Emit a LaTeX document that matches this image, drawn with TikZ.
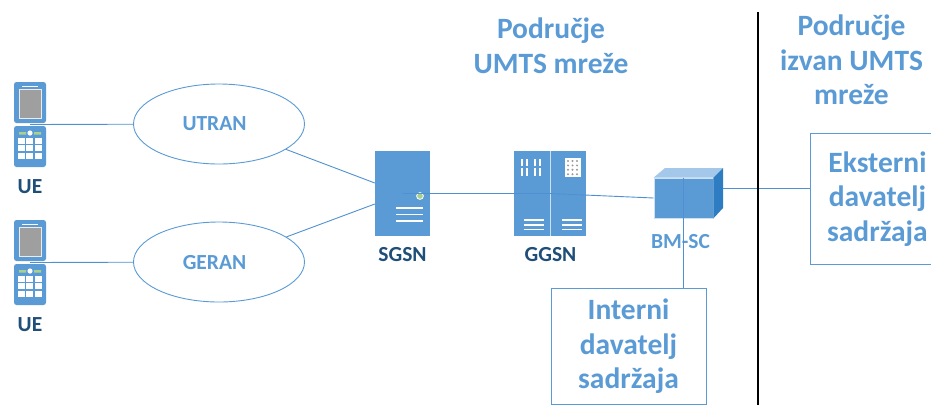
\documentclass[tikz,border=0pt]{standalone}
\usepackage{fontspec}
\setmainfont{Carlito}
\usetikzlibrary{shapes.geometric}
\definecolor{mso}{HTML}{5B9BD5}
\definecolor{msol}{HTML}{4F91D0}
\definecolor{msod}{HTML}{1F4E79}
\definecolor{msos}{HTML}{2E7CC2}
\definecolor{msot}{HTML}{A3C8EA}
\definecolor{keyg}{HTML}{A9D18E}
\tikzset{
  x=1pt,y=-1pt,
  link/.style={draw=msol,line width=0.9pt},
  cloudy/.style={ellipse,draw=mso,line width=0.9pt,fill=white,minimum width=171pt,minimum height=80pt,inner sep=0pt},
  cloudlabel/.style={text=mso,inner sep=0pt,font=\fontsize{21.5}{24}\selectfont\bfseries},
  head/.style={text=mso,align=center,inner sep=0pt,font=\fontsize{29.5}{34.5}\selectfont\bfseries},
  provider/.style={draw=mso,line width=0.9pt,fill=white,text=mso,align=center,inner sep=0pt,font=\fontsize{29.5}{34.5}\selectfont\bfseries},
  devlabel/.style={text=msod,inner sep=0pt,font=\fontsize{21.5}{24}\selectfont\bfseries},
  bslabel/.style={text=mso,inner sep=0pt,font=\fontsize{21.5}{24}\selectfont\bfseries},
  slab/.style={fill=mso,draw=none,inner sep=0pt,minimum width=55pt,minimum height=85pt},
  wline/.style={draw=white,line width=1.2pt},
  phone/.pic={
    \fill[mso,rounded corners=2.5pt] (-16,-42.5) rectangle (16,-1.5);
    \fill[mso,rounded corners=2.5pt] (-16,1.5) rectangle (16,42.5);
    \draw[white,line width=1pt] (-8,-38.5) -- (8,-38.5);
    \fill[gray!75,draw=white!85!gray,line width=0.8pt] (-11,-35.5) rectangle (11,-6.5);
    \fill[keyg] (-11,7.5) rectangle (-4,10) (4,7.5) rectangle (11,10);
    \fill[white] (0,8.5) circle (2.6pt);
    \foreach \r in {0,1,2}\foreach \c in {0,1,2}
      \fill[white] ({-12+8.3*\c},{13.5+7.3*\r}) rectangle +(7,6);
  }
}
\begin{document}
\begin{tikzpicture}
\useasboundingbox (0,0) rectangle (931,405);
% devices
\pic at (30,124.5) {phone};
\pic at (30,262.5) {phone};
\coordinate (p1) at (30,124.5);
\coordinate (p2) at (30,262.5);
\node[devlabel] (uel1) at (30,187) {UE};
\node[devlabel] (uel2) at (30,325) {UE};
\node[cloudy] (utran) at (219,124) {};
\node[cloudy] (geran) at (219,262) {};
\node[cloudlabel] (utranl) at (214.5,124) {UTRAN};
\node[cloudlabel] (geranl) at (214.5,262.5) {GERAN};
\node[slab] (sgsn) at (402.5,193.5) {};
\node[slab,minimum width=72pt] (ggsn) at (550,193.5) {};
\node[devlabel] (sgsnl) at (402.5,255) {SGSN};
\node[devlabel] (ggsnl) at (550.5,255) {GGSN};
% SGSN details
\fill[keyg,draw=white,line width=0.8pt] (420,196) circle (3.4pt);
\foreach \y in {208,214.5,221}\draw[wline] (396,\y) -- (423,\y);
% GGSN details
\draw[white!70!mso,line width=1pt] (ggsn.north) -- (ggsn.south);
\foreach \y in {220,225,229.5}{\draw[wline] (524,\y) -- (544,\y);\draw[wline] (562,\y) -- (582,\y);}
\foreach \x in {522,527,535,540}\foreach \y in {158.5,168}{\fill[white] (\x-1.2+0.2,\y) rectangle +(2.4,7.5);}
\fill[white] (565,158) rectangle (581,177);
\foreach \r in {0,1,2,3}\foreach \c in {0,1,2}\fill[gray!80] ({568+4.5*\c},{161+4.4*\r}) circle (1.1pt);
% BM-SC cube
\node[fill=mso,draw=white!70!mso,line width=0.8pt,inner sep=0pt,minimum width=59pt,minimum height=40pt] (bmsc) at (683.5,198) {};
\fill[msot] (bmsc.north west) -- (665,168) -- (723,168) -- (bmsc.north east) -- cycle;
\fill[msos] (bmsc.north east) -- (723,168) -- (723,208) -- (bmsc.south east) -- cycle;
\node[bslabel] (bmscl) at (680.5,242) {BM-SC};
% providers
\node[provider,minimum width=155pt,minimum height=116pt] (intern) at (628.5,346.5) {Interni\\davatelj\\sadržaja};
\node[provider,minimum width=134pt,minimum height=131pt,anchor=north west] (extern) at (810,133) {Eksterni\\davatelj\\sadržaja};
% links
\coordinate (s1) at (sgsn.west |- 0,183);
\coordinate (s2) at (sgsn.west |- 0,204);
\draw[link] (p1) -- (utran);
\draw[link] (p2) -- (geran);
\draw[link] (utran) -- (s1);
\draw[link] (geran) -- (s2);
\draw[link] (sgsn.center) -- (ggsn.center);
\draw[link] (ggsn.center) -- (bmsc.west);
\draw[link] (bmsc.north) -- (intern.north -| bmsc.north);
\coordinate (bmr) at (723,188);
\draw[link] (bmr) -- (extern.west |- bmr);
% divider
\coordinate (dt) at (758,12);
\coordinate (db) at (758,405);
\draw[black,line width=1.3pt] (dt) -- (db);
\node[head] (h1) at (551,46) {Područje\\UMTS mreže};
\node[head] (h2) at (851.5,60) {Područje\\izvan UMTS\\mreže};
\end{tikzpicture}
\end{document}
